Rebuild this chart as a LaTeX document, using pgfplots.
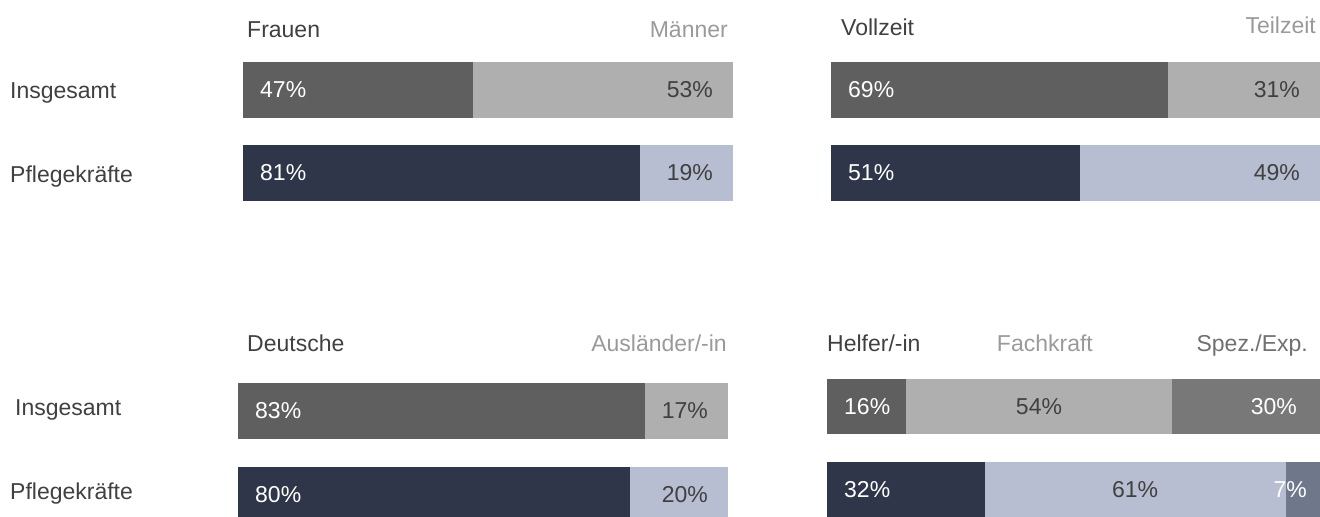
\documentclass[border=0pt]{standalone}
\usepackage{fontspec}
\setmainfont{Liberation Sans}
\usepackage{pgfplots}
\pgfplotsset{compat=1.18}

\definecolor{dkgrey}{HTML}{5F5F5F}
\definecolor{ltgrey}{HTML}{AFAFAF}
\definecolor{midgrey}{HTML}{787878}
\definecolor{navy}{HTML}{2F364A}
\definecolor{ltblue}{HTML}{B8BED2}
\definecolor{slate}{HTML}{6F778B}
\definecolor{txt}{HTML}{404040}
\definecolor{hdr}{HTML}{9A9A9A}
\definecolor{hdrmid}{HTML}{707070}

\pgfplotsset{
  panel/.style={xbar stacked, scale only axis, hide axis, enlargelimits=false,
    clip=false, xmin=0, xmax=100, ymin=-0.5, ymax=1.5, bar width=56bp,
    anchor=north west},
  seg/.style={fill=#1, draw=none},
}
\tikzset{
  lab/.style={inner sep=0pt, font=\fontsize{23bp}{27bp}\selectfont},
  inl/.style={lab, anchor=base west, xshift=17bp, yshift=-8bp},
  inr/.style={lab, anchor=base east, xshift=-20bp, yshift=-8bp},
  inc/.style={lab, anchor=base, yshift=-8bp},
}

\begin{document}
\begin{tikzpicture}
\useasboundingbox (0,0) rectangle (1320bp,517bp);

% Frauen / Maenner
\begin{axis}[panel, at={(243bp,468.5bp)}, width=490bp, height=166bp,
  after end axis/.code={
    \node[inl, white] at (axis cs:0,1) {47\%};
    \node[inr, txt]   at (axis cs:100,1) {53\%};
    \node[inl, white] at (axis cs:0,0) {81\%};
    \node[inr, txt]   at (axis cs:100,0) {19\%};
  }]
  \addplot[seg=dkgrey] coordinates {(47,1) (0,0)};
  \addplot[seg=ltgrey] coordinates {(53,1) (0,0)};
  \addplot[seg=navy]   coordinates {(0,1) (81,0)};
  \addplot[seg=ltblue] coordinates {(0,1) (19,0)};
  \node[lab, anchor=base west, txt] at (rel axis cs:0,1) [xshift=4bp, yshift=10.5bp] {Frauen};
  \node[lab, anchor=base east, hdr] at (rel axis cs:1,1) [xshift=-5bp, yshift=10.5bp] {Männer};
  \node[lab, anchor=base west, txt] at (axis cs:0,1) [xshift=-233bp, yshift=-9bp] {Insgesamt};
  \node[lab, anchor=base west, txt] at (axis cs:0,0) [xshift=-233bp, yshift=-9.5bp] {Pflegekräfte};
\end{axis}

% Vollzeit / Teilzeit
\begin{axis}[panel, at={(831bp,468.5bp)}, width=489bp, height=166bp,
  after end axis/.code={
    \node[inl, white] at (axis cs:0,1) {69\%};
    \node[inr, txt]   at (axis cs:100,1) {31\%};
    \node[inl, white] at (axis cs:0,0) {51\%};
    \node[inr, txt]   at (axis cs:100,0) {49\%};
  }]
  \addplot[seg=dkgrey] coordinates {(69,1) (0,0)};
  \addplot[seg=ltgrey] coordinates {(31,1) (0,0)};
  \addplot[seg=navy]   coordinates {(0,1) (51,0)};
  \addplot[seg=ltblue] coordinates {(0,1) (49,0)};
  \node[lab, anchor=base west, txt] at (rel axis cs:0,1) [xshift=10bp, yshift=12.5bp] {Vollzeit};
  \node[lab, anchor=base east, hdr] at (rel axis cs:1,1) [xshift=-4bp, yshift=14.5bp] {Teilzeit};
\end{axis}

% Deutsche / Auslaender
\begin{axis}[panel, at={(238bp,148bp)}, width=490bp, height=168bp,
  after end axis/.code={
    \node[inl, white] at (axis cs:0,1) {83\%};
    \node[inr, txt]   at (axis cs:100,1) {17\%};
    \node[inl, white] at (axis cs:0,0) {80\%};
    \node[inr, txt]   at (axis cs:100,0) {20\%};
  }]
  \addplot[seg=dkgrey] coordinates {(83,1) (0,0)};
  \addplot[seg=ltgrey] coordinates {(17,1) (0,0)};
  \addplot[seg=navy]   coordinates {(0,1) (80,0)};
  \addplot[seg=ltblue] coordinates {(0,1) (20,0)};
  \node[lab, anchor=base west, txt] at (rel axis cs:0,1) [xshift=9bp, yshift=17bp] {Deutsche};
  \node[lab, anchor=base east, hdr] at (rel axis cs:1,1) [xshift=-1bp, yshift=17bp] {Ausländer/-in};
  \node[lab, anchor=base west, txt] at (axis cs:0,1) [xshift=-223bp, yshift=-5bp] {Insgesamt};
  \node[lab, anchor=base west, txt] at (axis cs:0,0) [xshift=-228bp, yshift=-5bp] {Pflegekräfte};
\end{axis}

% Helfer / Fachkraft / Spezialist
\begin{axis}[panel, at={(827bp,152.25bp)}, width=493bp, height=167bp, bar width=55bp,
  after end axis/.code={
    \node[inl, white] at (axis cs:0,1) {16\%};
    \node[inc, txt]   at (axis cs:43,1) {54\%};
    \node[inr, white, xshift=-3bp] at (axis cs:100,1) {30\%};
    \node[inl, white] at (axis cs:0,0) {32\%};
    \node[inc, txt]   at (axis cs:62.5,0) {61\%};
    \node[inr, white, xshift=7bp] at (axis cs:100,0) {7\%};
  }]
  \addplot[seg=dkgrey]  coordinates {(16,1) (0,0)};
  \addplot[seg=ltgrey]  coordinates {(54,1) (0,0)};
  \addplot[seg=midgrey] coordinates {(30,1) (0,0)};
  \addplot[seg=navy]    coordinates {(0,1) (32,0)};
  \addplot[seg=ltblue]  coordinates {(0,1) (61,0)};
  \addplot[seg=slate]   coordinates {(0,1) (7,0)};
  \node[lab, anchor=base west, txt] at (rel axis cs:0,1) [yshift=12.75bp] {Helfer/-in};
  \node[lab, anchor=base, hdr] at (rel axis cs:0.442,1) [yshift=12.75bp] {Fachkraft};
  \node[lab, anchor=base east, hdrmid] at (rel axis cs:1,1) [xshift=-12bp, yshift=12.75bp] {Spez./Exp.};
\end{axis}
\end{tikzpicture}
\end{document}
